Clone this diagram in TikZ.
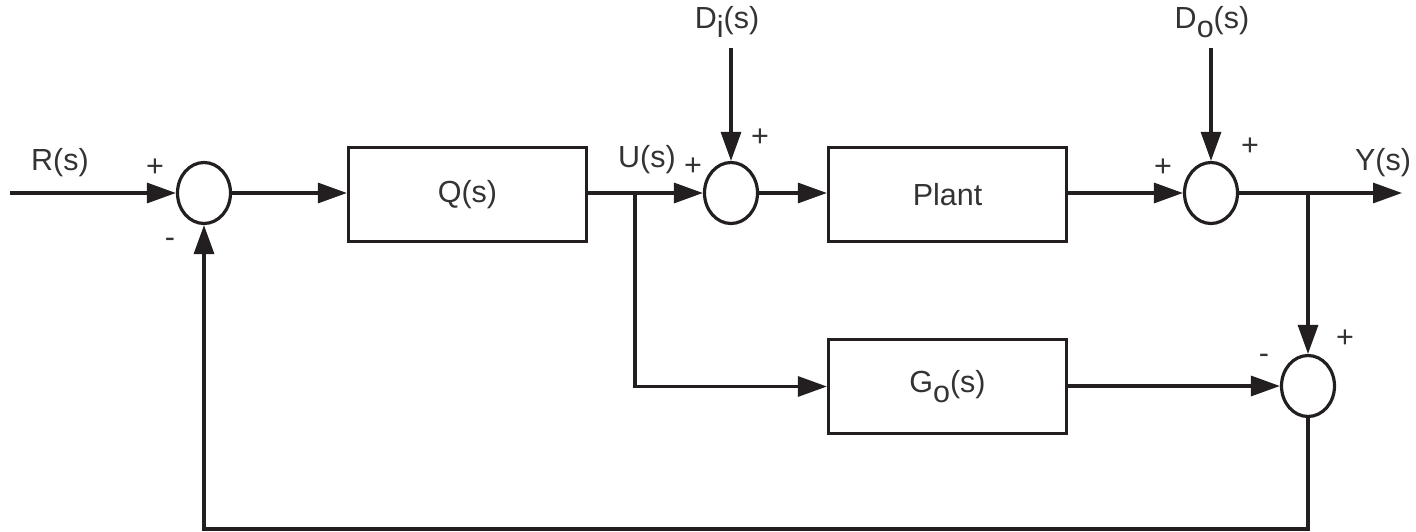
\documentclass[tikz,border=0pt]{standalone}
\usepackage{fontspec}
\setmainfont{Liberation Sans}
\usetikzlibrary{arrows.meta,shapes.geometric}
\definecolor{ink}{HTML}{231F20}
\definecolor{txt}{HTML}{333333}
\newcommand{\lowsub}[1]{\raisebox{-0.32em}{#1}}
\begin{document}
\begin{tikzpicture}[x=1pt,y=-1pt,
  every node/.style={font=\fontsize{30.5}{34}\selectfont, text=txt},
  sumj/.style={draw=ink, ellipse, line width=3.2pt, inner sep=0pt, minimum width=53pt, minimum height=61pt},
  blk/.style={draw=ink, rectangle, line width=3.2pt, inner sep=0pt, minimum width=238pt, minimum height=94pt},
  wire/.style={draw=ink, line width=3.2pt},
  arr/.style={wire, -{Triangle[length=29pt,width=20pt]}},
  lbl/.style={inner sep=0pt}
]
\useasboundingbox (0,0) rectangle (1416,532);
% nodes
\node[sumj] (j1) at (204,193) {};
\node[sumj] (j2) at (731,193) {};
\node[sumj] (j3) at (1211,193) {};
\node[sumj] (j4) at (1308,386) {};
\node[blk] (q) at (467.5,194.5) {Q(s)};
\node[blk] (p) at (947.5,194.5) {Plant};
\node[blk] (g) at (947.5,386.5) {G\lowsub{o}(s)};
\coordinate (rin) at (10,193);
\coordinate (u) at (635,193);
\coordinate (ybr) at (1308,193);
\coordinate (yout) at (1402,193);
\coordinate (di) at (731,48);
\coordinate (do) at (1211,48);
\coordinate (fb1) at (1308,529);
\coordinate (fb2) at (204,529);
% labels
\node[lbl] (lr) at (60,163) {R(s)};
\node[lbl] (lu) at (647,160) {U(s)};
\node[lbl] (ly) at (1383,163) {Y(s)};
\node[lbl] (ldi) at (727,22) {D\lowsub{i}(s)};
\node[lbl] (ldo) at (1212,22) {D\lowsub{o}(s)};
\node[lbl] (s1) at (155,168) {+};
\node[lbl] (s2) at (170,243) {-};
\node[lbl] (s3) at (693,167) {+};
\node[lbl] (s4) at (760,138) {+};
\node[lbl] (s5) at (1163,168) {+};
\node[lbl] (s6) at (1250,147) {+};
\node[lbl] (s7) at (1264,359) {-};
\node[lbl] (s8) at (1345,339) {+};
% connectors
\draw[arr] (rin) -- (j1);
\draw[arr] (j1) -- (q.west |- j1);
\draw[arr] (q.east |- u) -- (j2);
\draw[arr] (j2) -- (p.west |- j2);
\draw[arr] (p.east |- j3) -- (j3);
\draw[arr] (j3) -- (yout);
\draw[arr] (di) -- (j2);
\draw[arr] (do) -- (j3);
\draw[arr] (u) |- (g.west);
\draw[arr] (ybr) -- (j4);
\draw[arr] (g.east |- j4) -- (j4);
\draw[arr] (j4.south) -- (fb1) -- (fb2) -- (j1.south);
\end{tikzpicture}
\end{document}
